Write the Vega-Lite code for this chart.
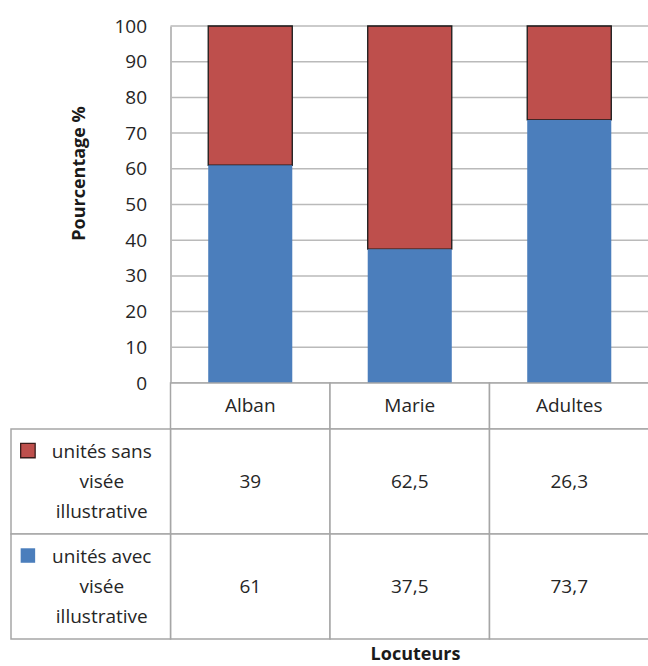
{
  "$schema": "https://vega.github.io/schema/vega-lite/v6.json",
  "padding": {"left": 10, "top": 17, "right": 0, "bottom": 0},
  "spacing": 0,
  "bounds": "flush",
  "config": {
    "view": {"stroke": null},
    "font": "Open Sans",
    "concat": {"spacing": 0},
    "axisY": {"labelOverlap": false, "tickCount": 11},
    "locale": {"number": {"decimal": ",", "thousands": "\u00a0", "grouping": [3], "currency": ["", "\u00a0€"]}}
  },
  "datasets": {
    "valeurs": [
      {"locuteur": "Alban", "serie": "unités sans visée illustrative", "valeur": 39},
      {"locuteur": "Alban", "serie": "unités avec visée illustrative", "valeur": 61},
      {"locuteur": "Marie", "serie": "unités sans visée illustrative", "valeur": 62.5},
      {"locuteur": "Marie", "serie": "unités avec visée illustrative", "valeur": 37.5},
      {"locuteur": "Adultes", "serie": "unités sans visée illustrative", "valeur": 26.3},
      {"locuteur": "Adultes", "serie": "unités avec visée illustrative", "valeur": 73.7}
    ],
    "series": [
      {"serie": "unités sans visée illustrative", "libelle": "unités sans\nvisée\nillustrative"},
      {"serie": "unités avec visée illustrative", "libelle": "unités avec\nvisée\nillustrative"}
    ],
    "graduations": [
      {"v": 0}, {"v": 10}, {"v": 20}, {"v": 30}, {"v": 40}, {"v": 50},
      {"v": 60}, {"v": 70}, {"v": 80}, {"v": 90}, {"v": 100}
    ]
  },
  "vconcat": [
    {
      "width": 638,
      "height": 357,
      "layer": [
        {
          "data": {"name": "graduations"},
          "mark": {"type": "rule", "color": "#bababa", "strokeWidth": 1.5},
          "encoding": {
            "y": {
              "field": "v", "type": "quantitative", "title": "Pourcentage %",
              "scale": {"domain": [0, 100], "nice": false},
              "axis": {
                "values": [0, 10, 20, 30, 40, 50, 60, 70, 80, 90, 100],
                "grid": false,
                "ticks": false,
                "labelOverlap": false,
                "offset": -159.5,
                "domainColor": "#a6a6a6",
                "domainWidth": 1.5,
                "labelFontSize": 19,
                "labelColor": "#262626",
                "labelPadding": 24,
                "title": "Pourcentage %",
                "titleFontSize": 18,
                "titleFontWeight": "bold",
                "titleColor": "#1a1a1a",
                "titleX": -91.5,
                "titleY": 147,
                "titleBaseline": "middle",
                "titleAngle": -90
              }
            },
            "x": {"datum": 1, "type": "quantitative", "scale": {"domain": [0, 4]}, "axis": null},
            "x2": {"datum": 4}
          }
        },
        {
          "data": {"name": "valeurs"},
          "mark": {"type": "bar", "width": {"band": 0.527}, "stroke": "#1a1a1a"},
          "encoding": {
            "x": {
              "field": "locuteur", "type": "nominal",
              "scale": {"domain": ["légende", "Alban", "Marie", "Adultes"], "paddingInner": 0, "paddingOuter": 0},
              "axis": null
            },
            "y": {
              "field": "valeur", "type": "quantitative", "stack": "zero", "title": "Pourcentage %",
              "axis": {
                "values": [0, 10, 20, 30, 40, 50, 60, 70, 80, 90, 100],
                "grid": false,
                "ticks": false,
                "labelOverlap": false,
                "offset": -159.5,
                "domainColor": "#a6a6a6",
                "domainWidth": 1.5,
                "labelFontSize": 19,
                "labelColor": "#262626",
                "labelPadding": 24,
                "title": "Pourcentage %",
                "titleFontSize": 18,
                "titleFontWeight": "bold",
                "titleColor": "#1a1a1a",
                "titleX": -91.5,
                "titleY": 147,
                "titleBaseline": "middle",
                "titleAngle": -90
              }
            },
            "color": {
              "field": "serie", "type": "nominal",
              "scale": {"domain": ["unités sans visée illustrative", "unités avec visée illustrative"], "range": ["#be4f4c", "#4b7ebc"]},
              "legend": null
            },
            "strokeWidth": {"condition": {"test": "datum.serie === 'unités sans visée illustrative'", "value": 1.3}, "value": 0},
            "order": {"field": "serie", "sort": "ascending"}
          }
        }
      ],
      "resolve": {"scale": {"x": "independent"}}
    },
    {
      "width": 638,
      "height": 46,
      "data": {"name": "valeurs"},
      "transform": [{"filter": "datum.serie === 'unités avec visée illustrative'"}],
      "encoding": {
        "x": {
          "field": "locuteur", "type": "nominal",
          "scale": {"domain": ["légende", "Alban", "Marie", "Adultes"], "paddingInner": 0, "paddingOuter": 0},
          "axis": null
        }
      },
      "layer": [
        {"mark": {"type": "rect", "fill": "white", "stroke": "#a6a6a6", "strokeWidth": 1.5}},
        {"mark": {"type": "text", "fontSize": 19, "color": "#262626"}, "encoding": {"text": {"field": "locuteur"}}}
      ]
    },
    {
      "width": 638,
      "height": 210,
      "layer": [
        {
          "data": {"name": "valeurs"},
          "mark": {"type": "rect", "fill": "white", "stroke": "#a6a6a6", "strokeWidth": 1.5},
          "encoding": {
            "x": {
              "field": "locuteur", "type": "nominal",
              "scale": {"domain": ["légende", "Alban", "Marie", "Adultes"], "paddingInner": 0, "paddingOuter": 0},
              "axis": {
                "labels": false, "ticks": false, "domain": false,
                "title": "Locuteurs", "titleFontSize": 18, "titleFontWeight": "bold",
                "titleColor": "#1a1a1a", "titleX": 404, "titlePadding": 6
              }
            },
            "y": {
              "field": "serie", "type": "nominal",
              "scale": {"domain": ["unités sans visée illustrative", "unités avec visée illustrative"], "paddingInner": 0, "paddingOuter": 0},
              "axis": null
            }
          }
        },
        {
          "data": {"name": "valeurs"},
          "mark": {"type": "text", "fontSize": 19, "color": "#262626"},
          "encoding": {
            "x": {"field": "locuteur", "type": "nominal"},
            "y": {"field": "serie", "type": "nominal"},
            "text": {"field": "valeur", "type": "quantitative", "format": ".3~r"}
          }
        },
        {
          "data": {"name": "series"},
          "mark": {"type": "rect", "fill": "white", "stroke": "#a6a6a6", "strokeWidth": 1.5},
          "encoding": {
            "x": {"datum": "légende"},
            "y": {"field": "serie", "type": "nominal"}
          }
        },
        {
          "data": {"name": "series"},
          "mark": {"type": "text", "fontSize": 19, "color": "#262626", "lineBreak": "\n", "lineHeight": 30, "dx": 11, "dy": -30},
          "encoding": {
            "x": {"datum": "légende"},
            "y": {"field": "serie", "type": "nominal"},
            "text": {"field": "libelle"}
          }
        },
        {
          "data": {"name": "series"},
          "mark": {"type": "point", "shape": "square", "filled": true, "opacity": 1, "size": 210, "stroke": "#3a1c1b"},
          "encoding": {
            "x": {"datum": "légende", "bandPosition": 0.106},
            "y": {"field": "serie", "type": "nominal", "bandPosition": 0.205},
            "color": {"field": "serie", "type": "nominal", "legend": null},
            "strokeWidth": {"condition": {"test": "datum.serie === 'unités sans visée illustrative'", "value": 1.3}, "value": 0}
          }
        }
      ]
    }
  ]
}
